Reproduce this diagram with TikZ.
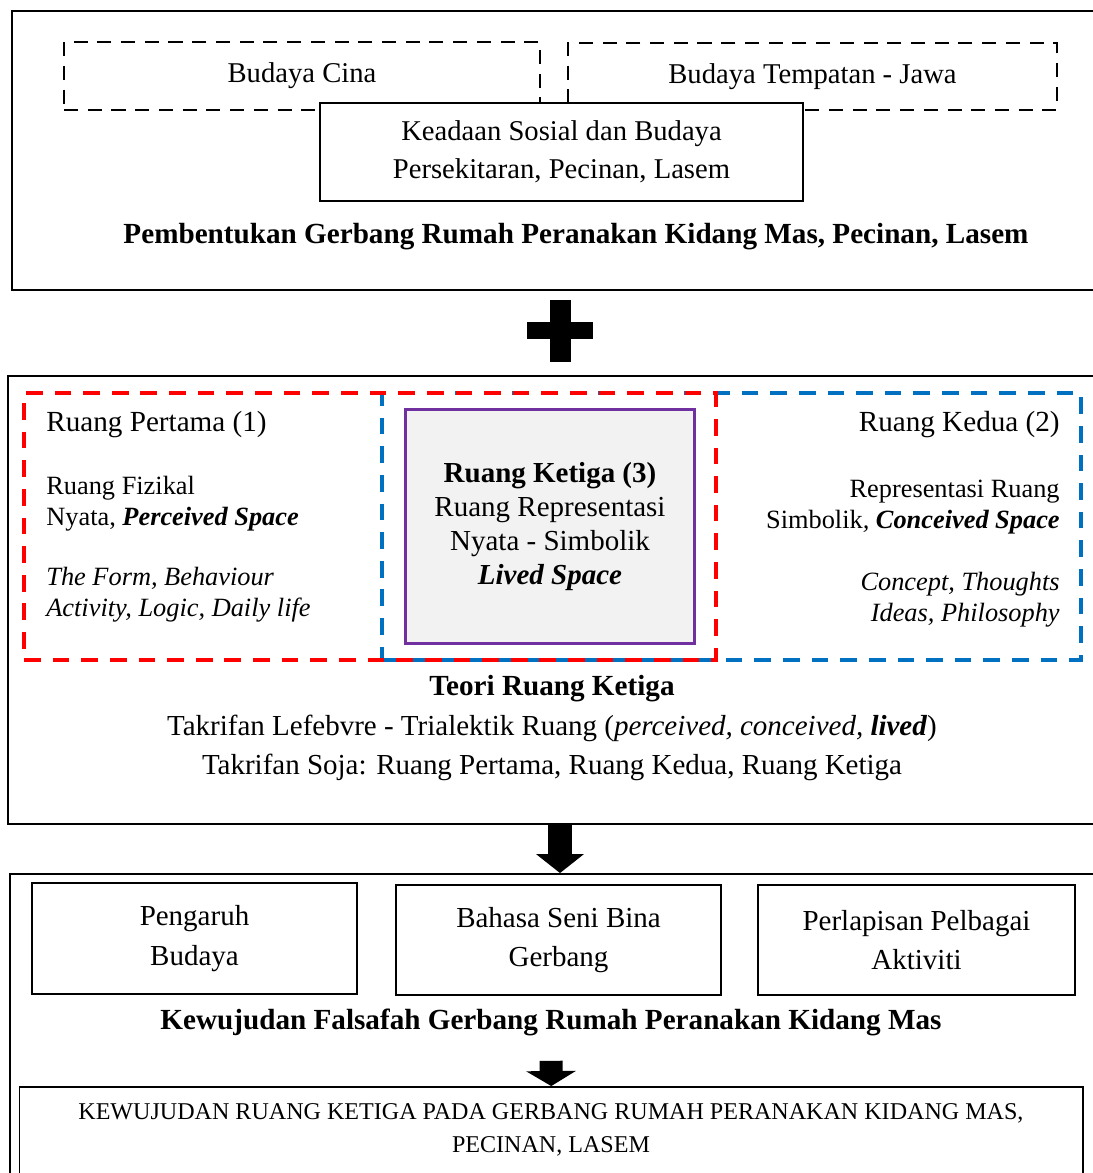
\documentclass[tikz,border=0pt]{standalone}
\usepackage{fontspec}
\setmainfont{Liberation Serif}
\usetikzlibrary{fit,positioning,arrows.meta}

\definecolor{dashred}{HTML}{FF0000}
\definecolor{dashblue}{HTML}{0070C0}
\definecolor{ketigaviolet}{HTML}{7030A0}
\definecolor{ketigafill}{HTML}{F2F2F2}

\begin{document}
\begin{tikzpicture}[x=0.02cm, y=-0.02cm,
    frame/.style={draw, line width=1.1pt, inner sep=0pt, align=center,
                  font=\fontsize{16.5}{22.5}\selectfont},
    dash box/.style={draw, line width=1.1pt, dash pattern=on 8pt off 5.5pt, inner sep=0pt,
                     font=\fontsize{16.3}{21.6}\selectfont},
    red dash/.style={draw=dashred, line width=2.2pt, dash pattern=on 9.5pt off 6.8pt, inner sep=0pt},
    blue dash/.style={draw=dashblue, line width=2.2pt, dash pattern=on 9.5pt off 6.8pt, inner sep=0pt},
    ketiga box/.style={draw=ketigaviolet, fill=ketigafill, line width=1.7pt, inner sep=0pt,
                       align=center, font=\fontsize{16.5}{19.3}\selectfont},
    plain/.style={inner sep=0pt, align=center, font=\fontsize{16.5}{22.1}\selectfont},
    heading/.style={inner sep=0pt, font=\fontsize{16.6}{20}\selectfont\bfseries},
    side/.style={inner sep=0pt, font=\fontsize{15}{17.6}\selectfont},
    caps/.style={inner sep=0pt, align=center, font=\fontsize{13.7}{18.7}\selectfont},
    big arrow/.style={line width=0.48cm, -{Triangle[width=0.96cm, length=0.38cm, line width=0pt]}},
    small arrow/.style={line width=0.46cm, -{Triangle[width=1cm, length=0.3cm, line width=0pt]}}]

  \useasboundingbox (0,0) rectangle (1092,1173);

  % top panel
  \node[frame, fit={(12,11) (1108,290)}] (pembentukan) {};
  \node[dash box, minimum width=9.52cm, minimum height=1.36cm] (cina) at (302,76) {Budaya Cina};
  \node[dash box, minimum width=9.78cm, minimum height=1.34cm] (jawa) at (812.5,76.5) {Budaya Tempatan - Jawa};
  \node[frame, fill=white, minimum width=9.66cm, minimum height=1.96cm,
        font=\fontsize{16.3}{21.6}\selectfont] (keadaan) at (561.5,152)
    {Keadaan Sosial dan Budaya\\Persekitaran, Pecinan, Lasem};
  \node[heading] (pembentukan title) at (576,237)
    {Pembentukan Gerbang Rumah Peranakan Kidang Mas, Pecinan, Lasem};

  % plus
  \fill (550,300) rectangle (571,362);
  \fill (527,322) rectangle (593,339);

  % middle panel
  \node[frame, fit={(8,376) (1112,824)}] (teori) {};
  \node[blue dash, fit={(382,393) (1081,660)}] (kedua) {};
  \node[red dash, fit={(24,393) (716,660)}] (pertama) {};
  \node[ketiga box, minimum width=5.8cm, minimum height=4.7cm] (ketiga) at (550,526.5)
    {\textbf{Ruang Ketiga (3)}\\Ruang Representasi\\Nyata - Simbolik\\\textbf{\textit{Lived Space}}};

  \node[side, anchor=west, font=\fontsize{16.6}{20}\selectfont] (pertama title) at (46,425) {Ruang Pertama (1)};
  \node[side, anchor=west, align=left] (pertama fizikal) at (46,504)
    {Ruang Fizikal\\Nyata, \textbf{\textit{Perceived Space}}};
  \node[side, anchor=west, align=left, font=\fontsize{15}{17.6}\selectfont\itshape] (pertama form) at (46,595)
    {The Form, Behaviour\\Activity, Logic, Daily life};

  \node[side, anchor=east, font=\fontsize{16.6}{20}\selectfont] (kedua title) at (1060,425) {Ruang Kedua (2)};
  \node[side, anchor=east, align=right] (kedua simbolik) at (1060,507)
    {Representasi Ruang\\Simbolik\textit{, \textbf{Conceived Space}}};
  \node[side, anchor=east, align=right, font=\fontsize{15}{17.6}\selectfont\itshape] (kedua concept) at (1060,600)
    {Concept, Thoughts\\Ideas, Philosophy};

  \node[heading] (teori title) at (552,689) {Teori Ruang Ketiga};
  \node[plain] (teori takrifan) at (552,748)
    {Takrifan Lefebvre - Trialektik Ruang (\textit{perceived, conceived, \textbf{lived}})\\
     Takrifan Soja: Ruang Pertama, Ruang Kedua, Ruang Ketiga};

  % bottom panel
  \node[frame, fit={(10,874) (1110,1200)}] (perwujudan) {};
  \node[frame, minimum width=6.5cm, minimum height=2.22cm] (pengaruh) at (194.5,938.5) {Pengaruh\\Budaya};
  \node[frame, minimum width=6.5cm, minimum height=2.2cm] (bahasa) at (558.5,940) {Bahasa Seni Bina\\Gerbang};
  \node[frame, minimum width=6.34cm, minimum height=2.2cm] (perlapisan) at (916.5,940) {Perlapisan Pelbagai\\Aktiviti};
  \node[heading] (kewujudan) at (551,1022) {Kewujudan Falsafah Gerbang Rumah Peranakan Kidang Mas};
  \node[frame, fit={(19.5,1087) (1083,1200)}] (final) {};
  \node[caps] (final text) at (551,1130)
    {KEWUJUDAN RUANG KETIGA PADA GERBANG RUMAH PERANAKAN KIDANG MAS,\\PECINAN, LASEM};

  \draw[big arrow] (teori.south) -- (perwujudan.north);
  \draw[small arrow] ([yshift=-0.5cm]kewujudan.south) -- (final.north);

\end{tikzpicture}
\end{document}
